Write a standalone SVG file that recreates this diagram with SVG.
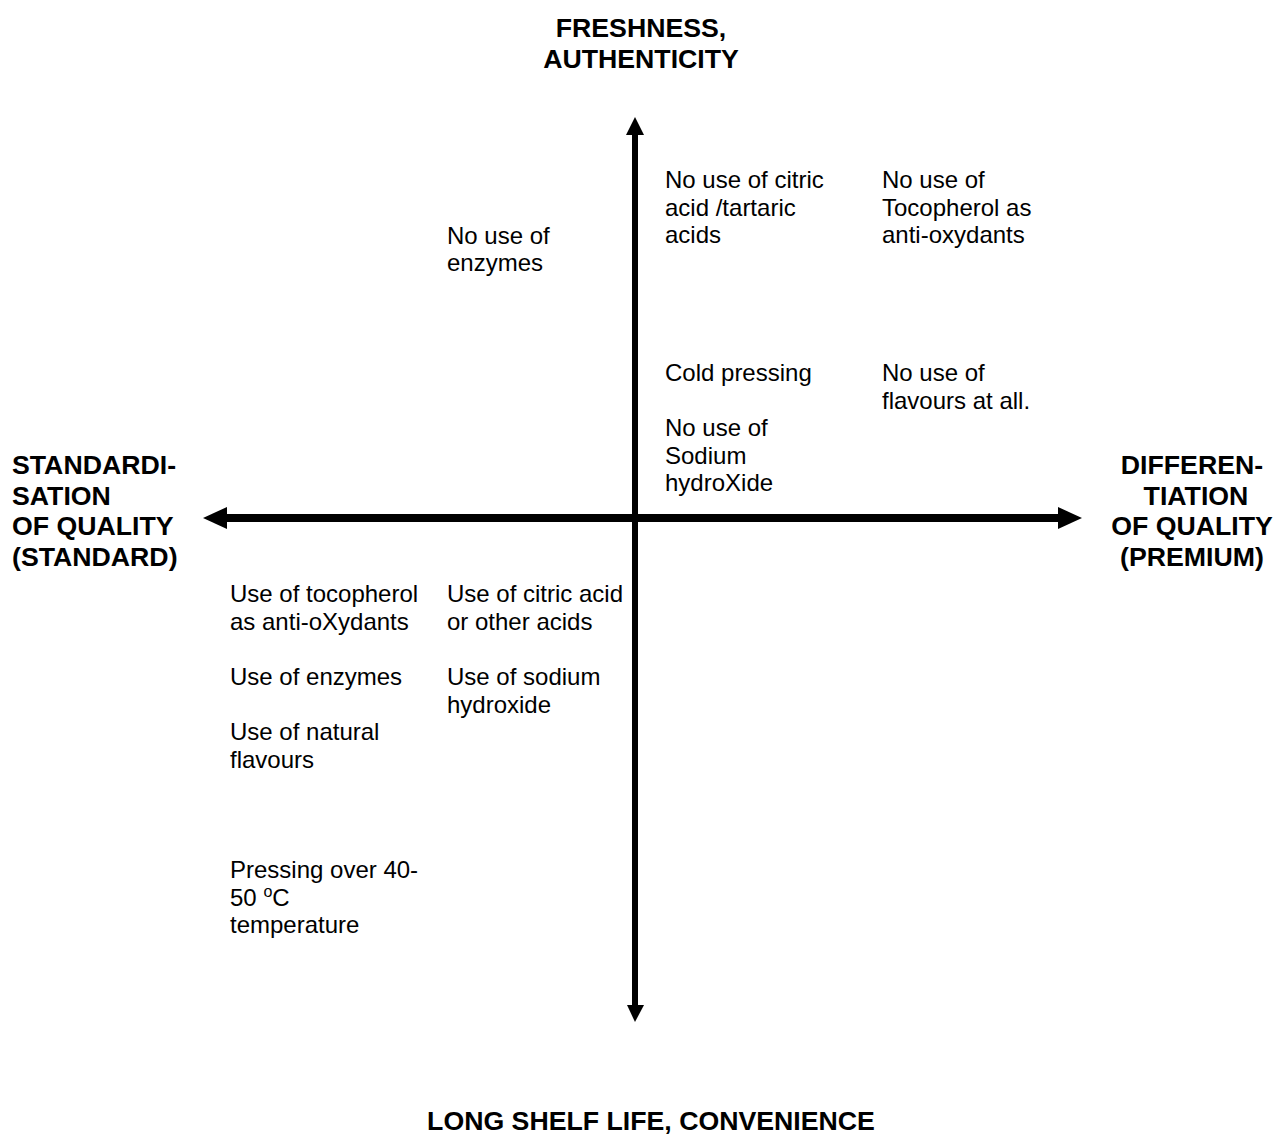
<svg xmlns="http://www.w3.org/2000/svg" width="1284" height="1139" viewBox="0 0 1284 1139">
<style>
.t{font-family:"Liberation Sans",Arial,sans-serif;font-size:24px;fill:#000}
.h{font-family:"Liberation Sans",Arial,sans-serif;font-size:26.7px;font-weight:bold;fill:#000}
.ax{stroke:#000;fill:none}
.hd{fill:#000;stroke:none}
</style>
<rect width="1284" height="1139" fill="#fff"/>
<g id="connectors">
<line class="ax" x1="227" y1="518" x2="1058" y2="518" stroke-width="8"/>
<line class="ax" x1="635" y1="134" x2="635" y2="1006" stroke-width="6"/>
<polygon class="hd" points="203,518 227,507 227,529"/>
<polygon class="hd" points="1082,518 1058,507 1058,529"/>
<polygon class="hd" points="635,117 626,135 644,135"/>
<polygon class="hd" points="635,1022 627,1005 644,1005"/>
</g>
<g id="top-label"><text class="h" text-anchor="middle" x="641" y="37">FRESHNESS,</text><text class="h" text-anchor="middle" x="641" y="68">AUTHENTICITY</text></g>
<g id="bottom-label"><text class="h" text-anchor="middle" x="651" y="1130">LONG SHELF LIFE, CONVENIENCE</text></g>
<g id="left-label"><text class="h" x="12" y="474">STANDARDI-</text><text class="h" x="12" y="505">SATION</text><text class="h" x="12" y="535">OF QUALITY</text><text class="h" x="12" y="566">(STANDARD)</text></g>
<g id="right-label" text-anchor="middle"><text class="h" x="1192" y="474">DIFFEREN-</text><text class="h" x="1196" y="505">TIATION</text><text class="h" x="1192" y="535">OF QUALITY</text><text class="h" x="1192" y="566">(PREMIUM)</text></g>
<g id="n-citric"><text class="t" x="665" y="188">No use of citric</text><text class="t" x="665" y="216">acid /tartaric</text><text class="t" x="665" y="243">acids</text></g>
<g id="n-tocopherol"><text class="t" x="882" y="188">No use of</text><text class="t" x="882" y="216">Tocopherol as</text><text class="t" x="882" y="243">anti-oxydants</text></g>
<g id="n-enzymes"><text class="t" x="447" y="244">No use of</text><text class="t" x="447" y="271">enzymes</text></g>
<g id="n-cold"><text class="t" x="665" y="381">Cold pressing</text></g>
<g id="n-flavours"><text class="t" x="882" y="381">No use of</text><text class="t" x="882" y="409">flavours at all.</text></g>
<g id="n-sodium"><text class="t" x="665" y="436">No use of</text><text class="t" x="665" y="464">Sodium</text><text class="t" x="665" y="491">hydroXide</text></g>
<g id="u-tocopherol"><text class="t" x="230" y="602">Use of tocopherol</text><text class="t" x="230" y="630">as anti-oXydants</text></g>
<g id="u-citric"><text class="t" x="447" y="602">Use of citric acid</text><text class="t" x="447" y="630">or other acids</text></g>
<g id="u-enzymes"><text class="t" x="230" y="685">Use of enzymes</text></g>
<g id="u-sodium"><text class="t" x="447" y="685">Use of sodium</text><text class="t" x="447" y="713">hydroxide</text></g>
<g id="u-flavours"><text class="t" x="230" y="740">Use of natural</text><text class="t" x="230" y="768">flavours</text></g>
<g id="u-pressing"><text class="t" x="230" y="878">Pressing over 40-</text><text class="t" x="230" y="906">50 <tspan font-size="16" dy="-9">o</tspan><tspan dy="9">C</tspan></text><text class="t" x="230" y="933">temperature</text></g>
</svg>
